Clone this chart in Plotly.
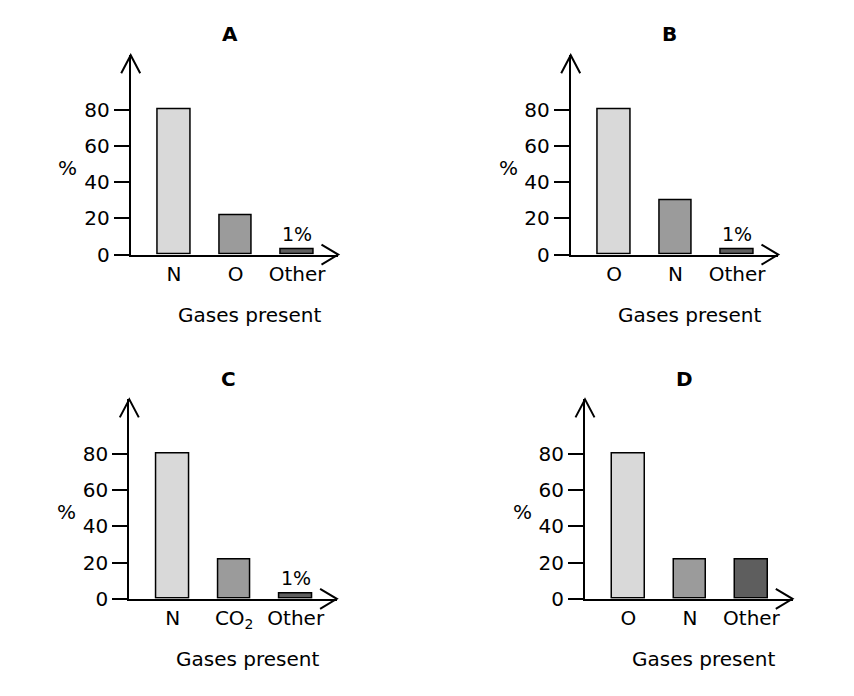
import plotly.graph_objects as go

# chart data
panel_titles = ["A", "B", "C", "D"]
categories_a = ["N", "O", "Other"]
values_a = [80, 22, 3]
categories_b = ["O", "N", "Other"]
values_b = [80, 30, 3]
categories_c = ["N", "CO<sub>2</sub>", "Other"]
values_c = [80, 22, 3]
categories_d = ["O", "N", "Other"]
values_d = [80, 22, 22]
bar_notes = ["1%", "1%", "1%", None]
y_ticks = [0, 20, 40, 60, 80]
x_title = "Gases present"
y_title = "%"

bar_colors = ["#d9d9d9", "#9b9b9b", "#5e5e5e"]
FONT = "DejaVu Sans, Liberation Sans, Arial, sans-serif"

# the page body has an 8px margin, and the shot comes out a bit squashed
# vertically, so target positions are scaled by SY
PAGE_PAD = 8
SY = 1 / 0.982
W, H = 854 - 2 * PAGE_PAD, 690
# target pixel position of each panel's origin (y axis x, zero line y)
origins = [(130.7, 254.3), (570.7, 254.3), (129.3, 598.3), (585.0, 598.3)]
PLOT_W, PLOT_H = 207.5, 199.3
X_RANGE = [-0.704, 2.667]
Y_MAX = 110


def px(x):
    return (x - PAGE_PAD) / W


def py(y):
    return 1 - (y * SY - PAGE_PAD) / H


panels = [
    (categories_a, values_a),
    (categories_b, values_b),
    (categories_c, values_c),
    (categories_d, values_d),
]

fig = go.Figure()
annotations = []
shapes = []

for i, (cats, vals) in enumerate(panels):
    n = "" if i == 0 else str(i + 1)
    ox, oy = origins[i]
    fig.add_trace(go.Bar(
        x=cats, y=vals, width=0.53,
        marker=dict(color=bar_colors, line=dict(color="black", width=1.5)),
        xaxis="x" + n, yaxis="y" + n, showlegend=False, hoverinfo="skip",
    ))
    fig.layout["xaxis" + n] = dict(
        domain=[px(ox), px(ox + PLOT_W)], anchor="y" + n,
        range=X_RANGE, showline=True, linecolor="black", linewidth=2,
        showgrid=False, zeroline=False, ticks="",
        tickfont=dict(family=FONT, size=20, color="black"),
        fixedrange=True,
    )
    fig.layout["yaxis" + n] = dict(
        domain=[py(oy), py(oy - PLOT_H)], anchor="x" + n,
        range=[0, Y_MAX], showline=True, linecolor="black", linewidth=2,
        showgrid=False, zeroline=False, ticks="outside", ticklen=15, tickwidth=2,
        tickcolor="black", tickvals=y_ticks,
        tickfont=dict(family=FONT, size=20, color="black"), fixedrange=True,
    )

    # axis arrowheads (open chevrons)
    shapes.append(dict(type="path", xref="paper", yref="paper",
                       xsizemode="pixel", ysizemode="pixel",
                       xanchor=px(ox), yanchor=py(oy - PLOT_H),
                       path="M-9.5,-18 L0,0 L9.5,-18",
                       line=dict(color="black", width=2)))
    shapes.append(dict(type="path", xref="paper", yref="paper",
                       xsizemode="pixel", ysizemode="pixel",
                       xanchor=px(ox + PLOT_W), yanchor=py(oy),
                       path="M-16.7,10 L0,0 L-16.7,-10",
                       line=dict(color="black", width=2)))

    text_spots = [
        (ox + 99, oy - 220, "<b>" + panel_titles[i] + "</b>", 20),
        (ox + 118.5, oy + 60.5, x_title, 20),
        (ox - 62.7, oy - 86.3, y_title, 20),
    ]
    for tx, ty, text, size in text_spots:
        annotations.append(dict(x=px(tx), y=py(ty), xref="paper", yref="paper",
                                xanchor="center", yanchor="middle",
                                text=text, showarrow=False,
                                font=dict(family=FONT, size=size, color="black")))
    if bar_notes[i]:
        annotations.append(dict(x=cats[-1], y=vals[-1], xref="x" + n, yref="y" + n,
                                text=bar_notes[i], showarrow=False,
                                xanchor="center", yanchor="bottom", yshift=2,
                                font=dict(family=FONT, size=19, color="black")))

fig.update_layout(
    width=W, height=H, margin=dict(l=0, r=0, t=0, b=0),
    paper_bgcolor="white", plot_bgcolor="white",
    annotations=annotations, shapes=shapes, bargap=0,
    font=dict(family=FONT, color="black"),
)

fig.write_html("out.html")
